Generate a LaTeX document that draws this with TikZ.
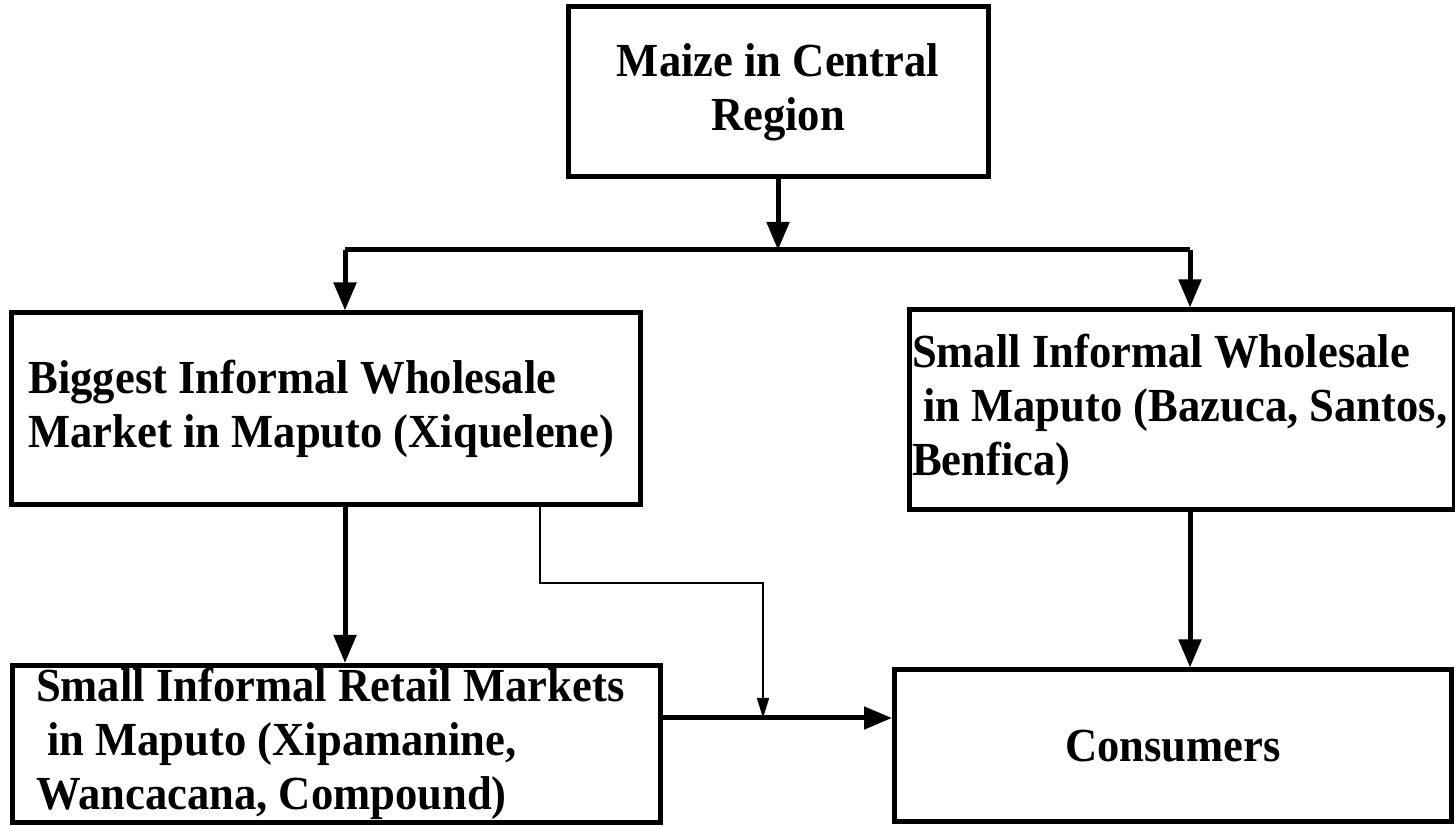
\documentclass[tikz,border=0pt]{standalone}
\usepackage{fontspec}
\setmainfont{Liberation Serif}[FakeStretch=0.94]
\usetikzlibrary{arrows.meta,positioning}

\tikzset{
	box/.style = {
			draw, line width=0.05cm,
			font=\bfseries\fontsize{13.5}{15.4}\selectfont,
			inner sep=0pt,
		},
	flow/.style = {line width=0.05cm, -{Triangle[length=0.28cm,width=0.22cm]}},
	side/.style = {line width=0.015cm, -{Triangle[length=0.2cm,width=0.12cm]}},
}

\begin{document}
\begin{tikzpicture}
		\useasboundingbox (0,0) rectangle (14.55,8.26);

		\node[box, minimum width=4.2cm, minimum height=1.7cm, align=center] at (7.78,7.34) (maize) {Maize in Central\\Region};

		\node[box, minimum width=6.28cm, minimum height=1.92cm, text width=5.95cm, align=flush left] at (3.26,4.17) (bigws) {Biggest Informal Wholesale\\Market in Maputo (Xiquelene)};
		\node[box, minimum width=5.45cm, minimum height=2cm, text width=5.4cm, align=flush left] at (11.82,4.16) (smallws) {Small Informal Wholesale\\~in Maputo (Bazuca, Santos,\\Benfica)};

		\node[box, minimum width=6.48cm, minimum height=1.57cm, text width=6cm, align=flush left] at (3.36,0.82) (retail) {Small Informal Retail Markets\\~in Maputo (Xipamanine,\\Wancacana, Compound)};
		\node[box, minimum width=5.57cm, minimum height=1.52cm, align=center] at (11.73,0.8) (consumers) {Consumers};

		\coordinate (split) at (7.78,5.76);
		\coordinate (splitL) at (3.45,5.76);
		\coordinate (splitR) at (11.9,5.76);
		\coordinate (bend) at (5.4,2.43);
		\coordinate (meet) at (7.63,1.08);

		\draw[flow] (maize) -- (split);
		\draw[line width=0.05cm] (splitL) -- (splitR);
		\draw[flow] (splitL) -- (splitL |- bigws.north);
		\draw[flow] (splitR) -- (splitR |- smallws.north);
		\draw[flow] (bigws.south -| splitL) -- (splitL |- retail.north);
		\draw[flow] (smallws.south -| splitR) -- (splitR |- consumers.north);
		\draw[flow] (retail.east |- meet) -- (consumers.west |- meet);
		\draw[side] (bigws.south -| bend) -- (bend) -| (meet);
	\end{tikzpicture}
\end{document}
